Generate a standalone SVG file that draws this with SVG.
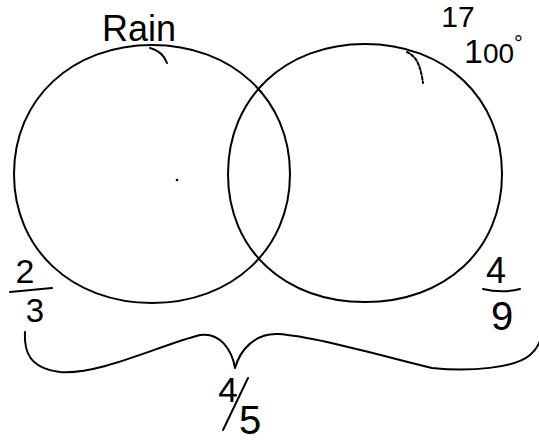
<svg xmlns="http://www.w3.org/2000/svg" width="539" height="445" viewBox="0 0 539 445">
<style>
.ln{fill:none;stroke:#000;stroke-width:2;stroke-linecap:round;stroke-linejoin:round}
.hw{font-family:"Liberation Sans",Arial,sans-serif;fill:#000;text-anchor:middle}
</style>
<rect width="539" height="445" fill="#fff"/>
<g id="rain-set">
<path class="ln" d="M14,174 C14,99 72,45 152,45 C232,45 290,99 290,174 C290,249 232,303 152,303 C72,303 14,249 14,174 Z"/>
<path class="ln" stroke-width="1.5" d="M150,48 C158,50 164,55 167,63"/>
<text class="hw" x="139" y="41" font-size="36">Rain</text>
<circle cx="177" cy="180" r="1.3" fill="#000"/>
</g>
<g id="hot-set">
<path class="ln" d="M228,174 C228,98 285,44 365,44 C445,44 502,98 502,174 C502,250 445,302 365,302 C285,302 228,250 228,174 Z"/>
<path class="ln" stroke-width="1.3" stroke-dasharray="3 2" d="M407,52 C415,56 420,62 423,83"/>
<text class="hw" x="458" y="27" font-size="30">17</text>
<text x="464" y="63" font-family="Liberation Sans,Arial,sans-serif" font-size="34">1<tspan font-size="28">00</tspan><tspan font-size="22" dy="-12">°</tspan></text>
</g>
<g id="labels">
<text class="hw" x="25" y="283" font-size="34">2</text>
<path class="ln" stroke-width="2.5" d="M10,292 L52,288"/>
<text class="hw" x="35" y="322" font-size="33">3</text>
<text class="hw" x="496" y="283" font-size="36">4</text>
<path class="ln" stroke-width="2.5" d="M483,289 C495,292 510,292 520,289"/>
<text class="hw" x="502" y="330" font-size="40">9</text>
<text class="hw" x="228" y="402" font-size="35">4</text>
<path class="ln" d="M248,378 L223,430"/>
<text class="hw" x="250" y="434" font-size="40">5</text>
</g>
<g id="connectors">
<path class="ln" d="M25,332 C24,350 28,368 60,372 C100,375 160,345 200,335 C220,332 232,350 235,368 C240,350 255,333 278,334 C310,336 360,350 432,368 C470,372 515,368 530,355 C536,350 539,345 541,338"/>
</g>
</svg>
